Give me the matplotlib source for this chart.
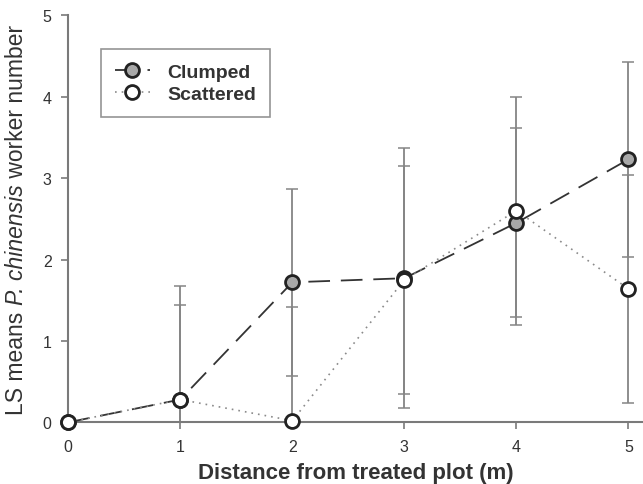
import numpy as np
import matplotlib
matplotlib.use("Agg")
import matplotlib.pyplot as plt

plt.rcParams["font.family"] = ["Liberation Sans", "DejaVu Sans"]

# LS means
distance = [0, 1, 2, 3, 4, 5]
clumped = [0.0, 0.28, 1.72, 1.77, 2.45, 3.23]
clumped_se = [0.0, 1.16, 1.15, 1.60, 1.16, 1.20]
scattered = [0.0, 0.28, 0.02, 1.75, 2.60, 1.64]
scattered_se = [0.0, 1.40, 1.40, 1.40, 1.40, 1.40]

TXT = "#333333"
AX = "#7a7a7a"

fig = plt.figure(figsize=(6.43, 4.85), dpi=100)
ax = fig.add_axes([0.1062, 0.1272, 0.8938, 0.8392])

eb_kw = dict(fmt="none", ecolor="#858585", elinewidth=1.3, capsize=4, capthick=1.1,
             clip_on=True, zorder=2)
ax.errorbar(distance[1:], clumped[1:], yerr=clumped_se[1:], **eb_kw)
ax.errorbar(distance[1:], scattered[1:], yerr=scattered_se[1:], **eb_kw)

ax.plot(distance, clumped, linestyle=(0, (12, 6)), color="#333333", linewidth=1.3,
        marker="o", markersize=10, markerfacecolor="#a8a8a8", markeredgecolor="#222222",
        markeredgewidth=2, clip_on=False, zorder=3, label="Clumped")
ax.plot(distance, scattered, linestyle=(0, (1, 3)), color="#8a8a8a", linewidth=1.2,
        marker="o", markersize=10, markerfacecolor="white", markeredgecolor="#222222",
        markeredgewidth=2, clip_on=False, zorder=4, label="Scattered")

ax.set_xlim(0, 5.13)
ax.set_ylim(0, 5)
ax.set_xticks(distance)
ax.set_yticks([0, 1, 2, 3, 4, 5])

for side in ["top", "right"]:
    ax.spines[side].set_visible(False)
for side in ["left", "bottom"]:
    ax.spines[side].set_color(AX)
    ax.spines[side].set_linewidth(1.5)
ax.tick_params(colors=AX, labelcolor=TXT, labelsize=11.5, length=5, width=1.2, pad=7)

ax.set_xlabel("Distance from treated plot (m)", fontsize=16, fontweight="bold", color=TXT,
              labelpad=6)

# y label with italic species name, built from three rotated pieces
ylab_kw = dict(fontsize=16.5, color=TXT, rotation=90, ha="left", va="bottom")
t1 = fig.text(0.008, 0.1, "LS means ", **ylab_kw)
t2 = ax.annotate("P. chinensis", xy=(0, 1), xycoords=t1, style="italic",
                 annotation_clip=False, **ylab_kw)
t3 = ax.annotate(" worker number", xy=(0, 1), xycoords=t2,
                 annotation_clip=False, **ylab_kw)
fig.canvas.draw()
r = fig.canvas.get_renderer()
y_lo = t1.get_window_extent(r).y0
y_hi = t3.get_window_extent(r).y1
fig_h = fig.get_size_inches()[1] * fig.dpi
center = fig_h * (0.1272 + 0.9664) / 2
t1.set_y((center - (y_hi - y_lo) / 2) / fig_h)

leg = ax.legend(loc="upper left", bbox_to_anchor=(0.04, 0.94),
                frameon=True, fancybox=False, prop={"weight": "bold", "size": 14},
                borderpad=0.7, handlelength=1.8, labelspacing=0.25, handletextpad=0.9)
leg.get_frame().set_edgecolor(AX)
leg.get_frame().set_linewidth(1.2)
for t in leg.get_texts():
    t.set_color(TXT)

fig.savefig("out.png", dpi=100)
